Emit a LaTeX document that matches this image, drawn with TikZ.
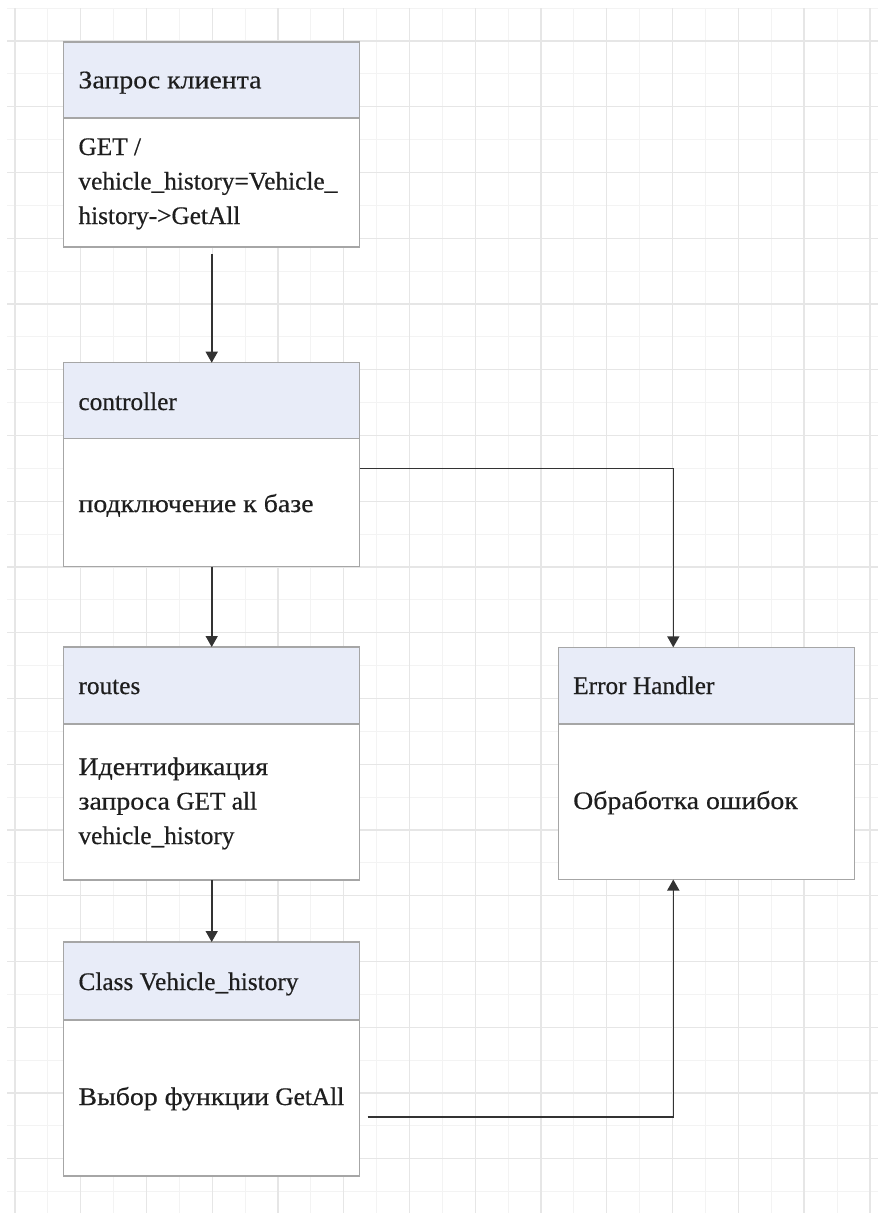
\documentclass[tikz,border=0pt]{standalone}
\usepackage{fontspec}
\setmainfont{Liberation Serif}
\newfontfamily\labelfont{Liberation Serif}[FakeBold=0.5]
% Cyrillic words are set a little wider
\newfontfamily\cyrfont{Liberation Serif}[FakeBold=0.5, FakeStretch=1.1]
\usetikzlibrary{arrows.meta}
\definecolor{gridmajor}{HTML}{E6E6E6}
\definecolor{gridminor}{HTML}{F3F3F3}
\definecolor{headfill}{HTML}{E8ECF8}
\definecolor{boxline}{HTML}{A6A6A6}
\definecolor{wire}{HTML}{333333}
\definecolor{ink}{HTML}{1E1E1E}
\begin{document}
\begin{tikzpicture}[x=1pt,y=-1pt,
  box/.style={draw=boxline, line width=1.3pt, rectangle, inner sep=0pt, outer sep=0pt,
              minimum width=296pt, anchor=north west},
  headbox/.style={box, fill=headfill},
  bodybox/.style={box, fill=white},
  txt/.style={inner sep=0pt, anchor=base west, align=left,
              font=\labelfont\fontsize{25.3}{34.5}\selectfont, text=ink},
  conn/.style={draw=wire, line width=1.6pt, -{Triangle[length=11pt,width=12pt]}},
]
% page and background grid
\fill[white] (0,0) rectangle (878,1213);
\useasboundingbox (0,0) rectangle (878,1213);
\begin{scope}
  \clip (7,8) rectangle (878,1213);
  \foreach \k in {1,3,...,25}
    \draw[gridminor, line width=1pt] ({15+32.88*\k},8) -- ({15+32.88*\k},1213);
  \foreach \k in {0,2,...,36}
    \draw[gridminor, line width=1pt] (7,{8+32.88*\k}) -- (878,{8+32.88*\k});
  \foreach \k in {0,2,...,26}
    \draw[gridmajor, line width=1.3pt] ({15+32.88*\k},8) -- ({15+32.88*\k},1213);
  \foreach \k in {1,3,...,35}
    \draw[gridmajor, line width=1.3pt] (7,{8+32.88*\k}) -- (878,{8+32.88*\k});
\end{scope}

% boxes: header + body
\node[headbox, minimum height=76pt]    (h1) at (63.7,42) {};
\node[bodybox, minimum height=129pt]   (b1) at (63.7,118) {};
\node[headbox, minimum height=75.6pt]  (h2) at (63.7,362.7) {};
\node[bodybox, minimum height=128.4pt] (b2) at (63.7,438.3) {};
\node[headbox, minimum height=77pt]    (h3) at (63.7,647) {};
\node[bodybox, minimum height=156pt]   (b3) at (63.7,724) {};
\node[headbox, minimum height=78pt]    (h4) at (63.7,942) {};
\node[bodybox, minimum height=156pt]   (b4) at (63.7,1020) {};
\node[headbox, minimum height=76.7pt]  (he) at (558.3,647.3) {};
\node[bodybox, minimum height=155.5pt] (be) at (558.3,724) {};

% texts (multi-line nodes are placed by their last baseline)
\node[txt] (t1) at (78.3,88.3) {{\cyrfont Запрос клиента}};
\node[txt] (d1) at (78.3,224) {GET /\\vehicle\_history=Vehicle\_\\history->GetAll};
\node[txt] (t2) at (78.3,410) {controller};
\node[txt] (d2) at (78.3,512) {{\cyrfont подключение к базе}};
\node[txt] (t3) at (78.3,694) {routes};
\node[txt] (d3) at (78.3,844) {{\cyrfont Идентификация}\\{\cyrfont запроса} GET all\\vehicle\_history};
\node[txt] (t4) at (78.3,990) {Class Vehicle\_history};
\node[txt] (d4) at (78.3,1105) {{\cyrfont Выбор функции} GetAll};
\node[txt] (te) at (573,694) {Error Handler};
\node[txt] (de) at (573,809) {{\cyrfont Обработка ошибок}};

% connectors
\draw[conn] ([yshift=-7pt]b1.south) -- (h2.north);
\draw[conn] (b2.south) -- (h3.north);
\draw[conn] (b3.south) -- (h4.north);
\draw[conn] ([yshift=34.2pt]b2.east) -| ([xshift=-33pt]he.north);
\draw[conn] ([xshift=8pt,yshift=-18.7pt]b4.east) -| ([xshift=-33pt]be.south);
\end{tikzpicture}
\end{document}
